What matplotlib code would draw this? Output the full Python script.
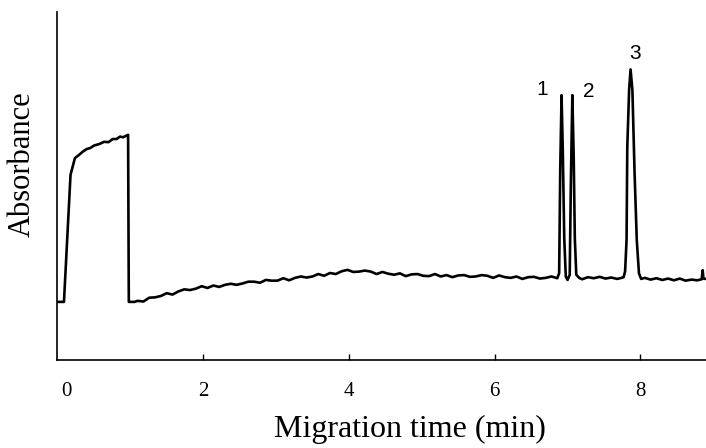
import numpy as np
import matplotlib
matplotlib.use("Agg")
import matplotlib.pyplot as plt

# injection plug (0 - 1.06 min)
plug_t = [0.0, 0.09, 0.18, 0.24, 0.30, 0.35, 0.40, 0.45, 0.50, 0.58, 0.64, 0.70, 0.76, 0.81, 0.86, 0.90, 0.97, 0.98, 1.06]
plug_a = [16.7, 16.7, 53.2, 58.0, 59.0, 59.9, 60.6, 60.9, 61.6, 62.1, 62.7, 62.6, 63.5, 63.5, 64.2, 64.0, 64.7, 16.7, 16.7]

# noisy baseline 1.10 - 6.86 min, sampled every 0.08 min
base_a = [17.0, 16.8, 17.9, 18.0, 18.4, 19.2, 18.8, 19.7, 20.3, 20.1,
          20.5, 21.2, 20.7, 21.4, 21.0, 21.6, 21.9, 21.6, 22.0, 22.5,
          22.5, 22.2, 23.0, 22.8, 22.8, 23.5, 22.9, 23.6, 24.0, 23.7,
          24.0, 24.7, 24.2, 25.0, 24.7, 25.5, 25.9, 25.3, 25.4, 25.7,
          25.4, 24.7, 25.3, 24.8, 24.5, 24.9, 24.1, 24.6, 24.7, 24.2,
          24.1, 24.7, 24.0, 24.4, 23.8, 24.3, 24.4, 23.9, 24.0, 24.4,
          24.2, 23.6, 24.3, 23.8, 23.6, 24.0, 23.3, 23.8, 23.9, 23.4,
          23.6, 24.0, 23.5]
base_t = np.linspace(1.10, 6.86, len(base_a))

# peaks 1 and 2
pk12_t = [6.885, 6.90, 6.918, 6.935, 6.955, 6.976, 7.00, 7.03, 7.045, 7.066, 7.085, 7.10, 7.12, 7.16]
pk12_a = [25.0, 55.0, 76.1, 60.0, 35.0, 24.0, 23.0, 24.5, 50.0, 76.1, 58.0, 35.0, 24.5, 23.6]

mid_t = [7.20, 7.28, 7.36, 7.44, 7.52, 7.60, 7.68, 7.74]
mid_a = [23.2, 23.8, 23.5, 23.9, 23.4, 23.7, 23.3, 23.6]

# peak 3
pk3_t = [7.77, 7.79, 7.81, 7.82, 7.845, 7.865, 7.89, 7.92, 7.95, 7.98, 8.01]
pk3_a = [23.8, 25.5, 34.5, 61.3, 77.6, 83.5, 77.6, 53.7, 34.5, 24.9, 23.3]

end_t = [8.06, 8.14, 8.22, 8.30, 8.38, 8.46, 8.54, 8.62, 8.70, 8.78, 8.84, 8.855, 8.865, 8.9]
end_a = [23.6, 23.1, 23.5, 23.0, 23.4, 22.9, 23.4, 22.8, 23.1, 22.9, 23.2, 25.8, 23.4, 23.3]

peak_labels = ["1", "2", "3"]
label_pos = [(6.65, 77.6), (7.29, 77.1), (7.92, 88.1)]

xticks = [2, 4, 6, 8]

t = np.concatenate([plug_t, base_t, pk12_t, mid_t, pk3_t, end_t])
a = np.concatenate([plug_a, base_a, pk12_a, mid_a, pk3_a, end_a])

fig = plt.figure(figsize=(7.06, 4.48), dpi=100)
ax = fig.add_axes([57.4 / 706, 1 - 360 / 448, 1 - 57.4 / 706, (360 - 12) / 448])

ax.plot(t, a, color="black", lw=1.9, solid_joinstyle="round")

ax.set_xlim(0, 8.9)
ax.set_ylim(0, 100)
for s in ["top", "right"]:
    ax.spines[s].set_visible(False)
for s in ["left", "bottom"]:
    ax.spines[s].set_linewidth(1.2)

ax.set_yticks([])
ax.set_xticks([0.13] + xticks)
ax.set_xticklabels(["0"] + [str(x) for x in xticks], family="Liberation Serif", fontsize=15)
ax.tick_params(axis="x", direction="in", length=4.5, width=1, pad=16)
ax.xaxis.get_major_ticks()[0].tick1line.set_visible(False)

for lab, (x, y) in zip(peak_labels, label_pos):
    ax.text(x, y, lab, ha="center", va="center", family="Liberation Sans", fontsize=15)

fig.text(22 / 706, 1 - 164 / 448, "Absorbance", rotation=90, ha="center", va="center",
         family="Liberation Serif", fontsize=22)
fig.text(409.5 / 706, 0.024, "Migration time (min)", ha="center", va="baseline",
         family="Liberation Serif", fontsize=23)

fig.savefig("out.png", dpi=100)
